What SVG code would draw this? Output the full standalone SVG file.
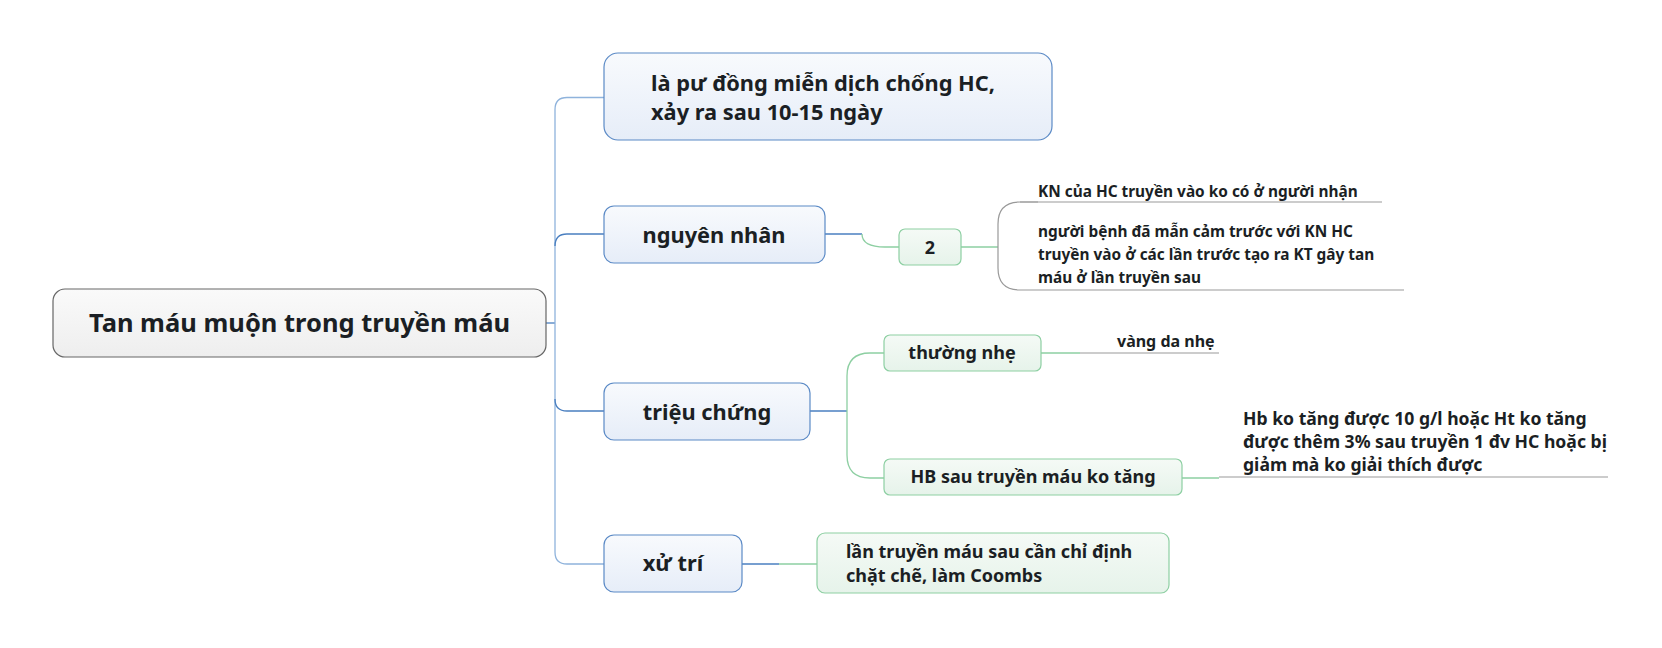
<svg xmlns="http://www.w3.org/2000/svg" width="1662" height="648" viewBox="0 0 1662 648">
<defs>
<linearGradient id="gBlue" x1="0" y1="0" x2="0" y2="1"><stop offset="0" stop-color="#f8fafd"/><stop offset="1" stop-color="#e6edf8"/></linearGradient>
<linearGradient id="gGreen" x1="0" y1="0" x2="0" y2="1"><stop offset="0" stop-color="#f5faf6"/><stop offset="1" stop-color="#e6f3ea"/></linearGradient>
<linearGradient id="gRoot" x1="0" y1="0" x2="0" y2="1"><stop offset="0" stop-color="#fafafa"/><stop offset="1" stop-color="#eeeeee"/></linearGradient>
</defs>
<style>
text{font-family:"Noto Sans","Open Sans","DejaVu Sans",sans-serif;font-weight:bold;fill:#1b1f24}
.blue{fill:url(#gBlue);stroke:#5b8ac6;stroke-width:1.2}
.green{fill:url(#gGreen);stroke:#8dcfa2;stroke-width:1.2}
.root{fill:url(#gRoot);stroke:#666;stroke-width:1.2}
.cb{fill:none;stroke:#4a7fc0;stroke-width:1.3}
.cbl{fill:none;stroke:#8fb3dc;stroke-width:1.3}
.cg{fill:none;stroke:#8dcfa2;stroke-width:1.3}
.cgr{fill:none;stroke:#999;stroke-width:1.2}
.t1{font-size:25.5px}
.t2{font-size:21.8px}
.t3{font-size:18px}
.t4{font-size:15.4px}
.t5{font-size:17.6px}
</style>
<g id="connectors">
<path class="cb" d="M546 323 H555"/>
<path class="cbl" d="M604 97.5 H567 Q555 97.5 555 109.5 V323"/>
<path class="cbl" d="M555 323 V552 Q555 564 567 564 H604"/>
<path class="cb" d="M555 246 Q555 234 567 234 H604"/>
<path class="cb" d="M555 399 Q555 411 567 411 H604"/>
<path class="cb" d="M825 234 H862"/>
<path class="cg" d="M862 234 C862 244 872 247 885 247 H899"/>
<path class="cg" d="M961 247 H998"/>
<path class="cgr" d="M1020 202 H1382"/>
<path class="cgr" d="M1038 202 H1020 Q998 202 998 224 V268 Q998 290 1020 290 H1404"/>
<path class="cb" d="M810 411 H847"/>
<path class="cg" d="M884 353 H870 Q847 353 847 376 V455 Q847 478 870 478 H884"/>
<path class="cg" d="M1041 353 H1080"/>
<path class="cgr" d="M1080 353 H1219"/>
<path class="cg" d="M1182 478 H1219"/>
<path class="cgr" d="M1219 477 H1608"/>
<path class="cb" d="M742 564 H779"/>
<path class="cg" d="M779 564 H817"/>
</g>
<g id="root">
<rect class="root" x="53" y="289" width="493" height="68" rx="12"/>
<text class="t1" x="299.5" y="332" text-anchor="middle">Tan máu muộn trong truyền máu</text>
</g>
<g id="n-dinhnghia">
<rect class="blue" x="604" y="53" width="448" height="87" rx="14"/>
<text class="t2" x="651" y="91">là pư đồng miễn dịch chống HC,</text>
<text class="t2" x="651" y="120">xảy ra sau 10-15 ngày</text>
</g>
<g id="n-nguyennhan">
<rect class="blue" x="604" y="206" width="221" height="57" rx="10"/>
<text class="t2" x="714" y="243" text-anchor="middle">nguyên nhân</text>
</g>
<g id="n-2">
<rect class="green" x="899" y="229" width="62" height="36" rx="6"/>
<text class="t3" x="930" y="254" text-anchor="middle">2</text>
</g>
<g id="n-kn">
<text class="t4" x="1038" y="197">KN của HC truyền vào ko có ở người nhận</text>
</g>
<g id="n-nguoibenh">
<text class="t4" x="1038" y="237">người bệnh đã mẫn cảm trước với KN HC</text>
<text class="t4" x="1038" y="260">truyền vào ở các lần trước tạo ra KT gây tan</text>
<text class="t4" x="1038" y="283">máu ở lần truyền sau</text>
</g>
<g id="n-trieuchung">
<rect class="blue" x="604" y="383" width="206" height="57" rx="10"/>
<text class="t2" x="707" y="420" text-anchor="middle">triệu chứng</text>
</g>
<g id="n-thuongnhe">
<rect class="green" x="884" y="335" width="157" height="36" rx="6"/>
<text class="t3" x="962" y="359" text-anchor="middle">thường nhẹ</text>
</g>
<g id="n-vangda">
<text class="t4" x="1117" y="347" style="font-size:16px">vàng da nhẹ</text>
</g>
<g id="n-hb">
<rect class="green" x="884" y="459" width="298" height="36" rx="6"/>
<text class="t3" x="1033" y="483" text-anchor="middle">HB sau truyền máu ko tăng</text>
</g>
<g id="n-hbtext">
<text class="t5" x="1243" y="425">Hb ko tăng được 10 g/l hoặc Ht ko tăng</text>
<text class="t5" x="1243" y="448">được thêm 3% sau truyền 1 đv HC hoặc bị</text>
<text class="t5" x="1243" y="471">giảm mà ko giải thích được</text>
</g>
<g id="n-xutri">
<rect class="blue" x="604" y="535" width="138" height="57" rx="10"/>
<text class="t2" x="673" y="571" text-anchor="middle">xử trí</text>
</g>
<g id="n-lantruyen">
<rect class="green" x="817" y="533" width="352" height="60" rx="8"/>
<text class="t3" x="846" y="558">lần truyền máu sau cần chỉ định</text>
<text class="t3" x="846" y="582">chặt chẽ, làm Coombs</text>
</g>
</svg>
